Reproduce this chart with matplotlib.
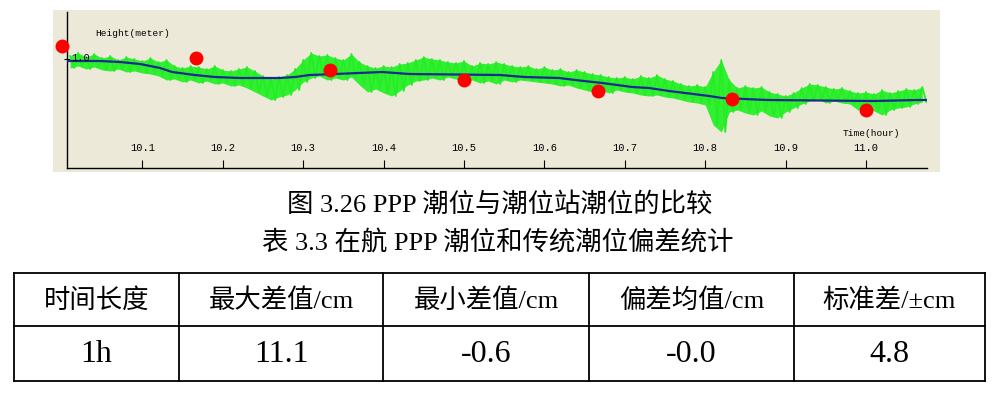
import matplotlib.pyplot as plt
from matplotlib.patches import Rectangle
import numpy as np

plt.rcParams['font.family'] = ['Liberation Serif', 'Noto Sans CJK SC']

# PPP tide (green, noisy): upper and lower swing, every 0.01 h
green_t = [10.01 + 0.01 * k for k in range(107)]
green_hi = [1.03, 1.06, 1.02, 1.05, 1.01, 1.03, 0.99, 1.02, 1.00, 0.98,
            1.01, 0.97, 0.99, 0.93, 0.91, 0.93, 0.92, 0.90, 0.93, 0.89,
            0.88, 0.90, 0.92, 0.88, 0.83, 0.80, 0.82, 0.84, 0.90, 0.99,
            1.06, 1.03, 1.04, 1.01, 0.99, 1.05, 0.97, 0.93, 0.91, 0.93,
            0.92, 0.95, 0.96, 0.99, 1.02, 1.00, 0.99, 0.97, 0.96, 0.98,
            0.93, 0.96, 0.95, 0.97, 0.95, 0.93, 0.92, 0.93, 0.90, 0.92,
            0.89, 0.90, 0.87, 0.89, 0.87, 0.85, 0.84, 0.82, 0.81, 0.82,
            0.80, 0.83, 0.81, 0.84, 0.80, 0.78, 0.75, 0.73, 0.74, 0.72,
            0.87, 0.99, 0.79, 0.71, 0.73, 0.71, 0.72, 0.67, 0.65, 0.63,
            0.66, 0.71, 0.75, 0.74, 0.72, 0.70, 0.71, 0.68, 0.66, 0.67,
            0.65, 0.69, 0.66, 0.68, 0.70, 0.69, 0.72]
green_lo = [0.91, 0.93, 0.90, 0.92, 0.89, 0.88, 0.90, 0.87, 0.88, 0.86,
            0.85, 0.83, 0.79, 0.80, 0.77, 0.79, 0.76, 0.78, 0.75, 0.76,
            0.73, 0.74, 0.71, 0.67, 0.63, 0.59, 0.62, 0.64, 0.69, 0.77,
            0.81, 0.83, 0.79, 0.81, 0.79, 0.82, 0.74, 0.67, 0.70, 0.66,
            0.63, 0.68, 0.74, 0.78, 0.79, 0.81, 0.79, 0.82, 0.80, 0.77,
            0.79, 0.76, 0.78, 0.75, 0.79, 0.77, 0.79, 0.78, 0.77, 0.76,
            0.75, 0.73, 0.74, 0.71, 0.69, 0.67, 0.69, 0.66, 0.69, 0.67,
            0.66, 0.64, 0.63, 0.64, 0.62, 0.61, 0.59, 0.57, 0.56, 0.54,
            0.34, 0.27, 0.47, 0.49, 0.46, 0.44, 0.48, 0.43, 0.41, 0.47,
            0.51, 0.55, 0.58, 0.60, 0.56, 0.58, 0.56, 0.55, 0.49, 0.52,
            0.48, 0.44, 0.49, 0.51, 0.52, 0.55, 0.57]

# smoothed tide (blue)
blue_t = [10.006, 10.047, 10.072, 10.097, 10.122, 10.137, 10.165, 10.190, 10.221,
          10.271, 10.290, 10.308, 10.340, 10.398, 10.432, 10.545, 10.575, 10.618,
          10.649, 10.672, 10.709, 10.730, 10.755, 10.775, 10.805, 10.821, 10.877,
          11.010, 11.066, 11.076]
blue_h = [0.98, 0.98, 0.97, 0.95, 0.91, 0.87, 0.84, 0.82, 0.81,
          0.81, 0.82, 0.84, 0.85, 0.87, 0.85, 0.84, 0.82, 0.81,
          0.78, 0.76, 0.72, 0.71, 0.68, 0.66, 0.63, 0.61, 0.59,
          0.58, 0.59, 0.59]

# tide station readings (red)
station_t = [10.0, 10.1667, 10.3333, 10.5, 10.6667, 10.8333, 11.0]
station_h = [1.13, 1.01, 0.89, 0.79, 0.68, 0.60, 0.49]

x_ticks = [10.1, 10.2, 10.3, 10.4, 10.5, 10.6, 10.7, 10.8, 10.9, 11.0]

caption_fig = '图 3.26 PPP 潮位与潮位站潮位的比较'
caption_tab = '表 3.3 在航 PPP 潮位和传统潮位偏差统计'
table_head = ['时间长度', '最大差值/cm', '最小差值/cm', '偏差均值/cm', '标准差/±cm']
table_row = ['1h', '11.1', '-0.6', '-0.0', '4.8']

W, H = 997, 394
fig = plt.figure(figsize=(W / 100, H / 100), dpi=100)
fig.patch.set_facecolor('white')


def fx(px):
    return px / W


def fy(py):
    return 1 - py / H


# beige screenshot panel
fig.patches.append(Rectangle((fx(53), fy(172)), fx(940) - fx(53), fy(10) - fy(172),
                             transform=fig.transFigure, facecolor='#ECE9D8',
                             edgecolor='none', zorder=-10))

ax = fig.add_axes([fx(67), fy(168), fx(927) - fx(67), fy(12) - fy(168)])
ax.set_zorder(2)
ax.set_facecolor('none')
ax.set_xlim(10.0062, 11.0759)
ax.set_ylim(-0.09, 1.47)
for s in ['top', 'right']:
    ax.spines[s].set_visible(False)
for s in ['left', 'bottom']:
    ax.spines[s].set_linewidth(1.0)

# green noisy series: band between read lows and highs, with a jagged edge
zx = np.ravel(np.column_stack([green_t, np.array(green_t) + 0.005]))
zy = np.ravel(np.column_stack([green_hi, green_lo]))
ax.fill_between(green_t, green_lo, green_hi, color='#33EE33', lw=0, zorder=1)
ax.plot(zx, zy, color='#22EE22', lw=1.3, zorder=2)
ax.plot(blue_t, blue_h, color='#1c2890', lw=1.6, zorder=3)
ax.plot(station_t, station_h, 'o', color='#FF0000', ms=10, mec='none',
        clip_on=False, zorder=4)

mono = 'Liberation Mono'
ax.set_xticks(x_ticks)
ax.tick_params(axis='x', direction='in', length=6, labelbottom=False)
for t in x_ticks:
    ax.text(t, 0.128, '%.1f' % t, transform=ax.get_xaxis_transform(),
            ha='center', va='center', fontsize=7.5, family=mono)
ax.set_yticks([1.0])
ax.tick_params(axis='y', direction='inout', length=5, labelleft=False)
ax.annotate('1.0', xy=(0, 1.0), xycoords=('axes fraction', 'data'),
            xytext=(3, 1), textcoords='offset points', ha='left', va='center',
            fontsize=7.5, family=mono)
ax.text(0.0326, 0.865, 'Height(meter)', transform=ax.transAxes, ha='left',
        va='center', fontsize=6.8, family=mono)
ax.text(0.902, 0.218, 'Time(hour)', transform=ax.transAxes, ha='left',
        va='center', fontsize=6.8, family=mono)

# captions and table in pixel coordinates
oax = fig.add_axes([0, 0, 1, 1])
oax.set_zorder(1)
oax.set_xlim(0, W)
oax.set_ylim(H, 0)
oax.axis('off')

oax.text(500, 205, caption_fig, ha='center', va='center', fontsize=19)
oax.text(498, 242, caption_tab, ha='center', va='center', fontsize=19)

col_edges = [14, 179, 383, 589, 794, 985]
row_edges = [273, 326, 381]
for y in row_edges:
    oax.plot([col_edges[0], col_edges[-1]], [y, y], color='black', lw=1.3)
for x in col_edges:
    oax.plot([x, x], [row_edges[0], row_edges[-1]], color='black', lw=1.3)
for i in range(5):
    cx = (col_edges[i] + col_edges[i + 1]) / 2
    oax.text(cx, (row_edges[0] + row_edges[1]) / 2 + 1, table_head[i],
             ha='center', va='center', fontsize=19)
    oax.text(cx, (row_edges[1] + row_edges[2]) / 2 + 1, table_row[i],
             ha='center', va='center', fontsize=23)

fig.savefig('out.png', dpi=100)
